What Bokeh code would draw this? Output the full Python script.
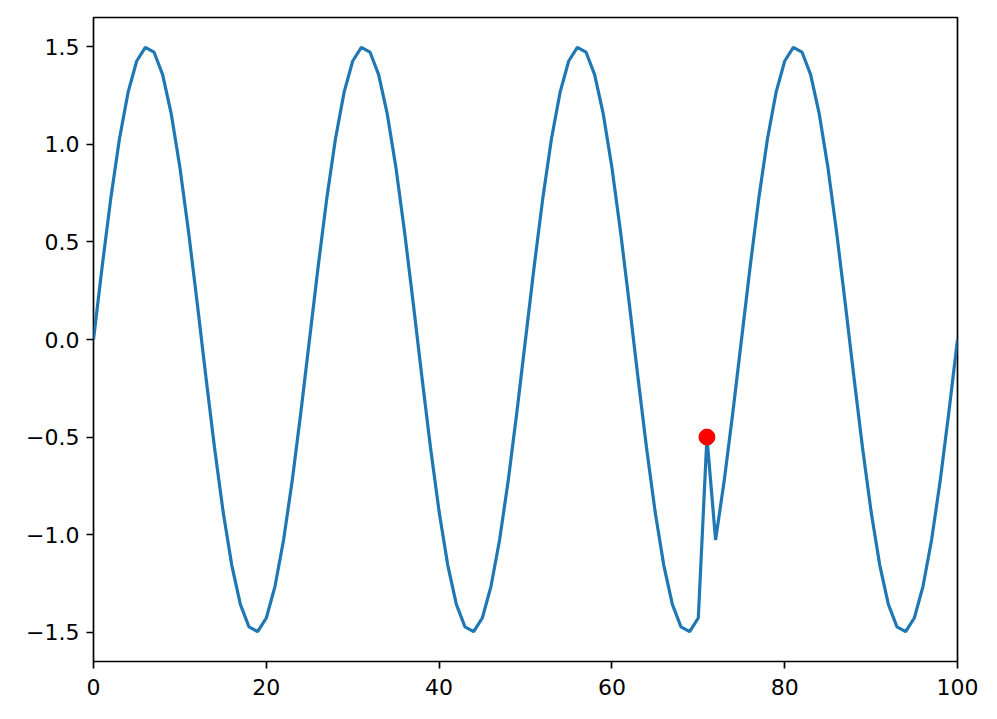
from bokeh.plotting import figure
from bokeh.models import Range1d, FixedTicker
from bokeh.embed import file_html
from bokeh.resources import INLINE

x_values = list(range(0, 101))
y_values = [
    0.0, 0.373, 0.723, 1.027, 1.266, 1.427, 1.497, 1.473, 1.357, 1.156,
    0.882, 0.552, 0.188, -0.188, -0.552, -0.882, -1.156, -1.357, -1.473, -1.497,
    -1.427, -1.266, -1.027, -0.723, -0.373,
    0.0, 0.373, 0.723, 1.027, 1.266, 1.427, 1.497, 1.473, 1.357, 1.156,
    0.882, 0.552, 0.188, -0.188, -0.552, -0.882, -1.156, -1.357, -1.473, -1.497,
    -1.427, -1.266, -1.027, -0.723, -0.373,
    0.0, 0.373, 0.723, 1.027, 1.266, 1.427, 1.497, 1.473, 1.357, 1.156,
    0.882, 0.552, 0.188, -0.188, -0.552, -0.882, -1.156, -1.357, -1.473, -1.497,
    -1.427, -0.5, -1.027, -0.723, -0.373,
    0.0, 0.373, 0.723, 1.027, 1.266, 1.427, 1.497, 1.473, 1.357, 1.156,
    0.882, 0.552, 0.188, -0.188, -0.552, -0.882, -1.156, -1.357, -1.473, -1.497,
    -1.427, -1.266, -1.027, -0.723, -0.373,
    0.0,
]
anomaly_x = [71]
anomaly_y = [-0.5]

x_ticks = [0, 20, 40, 60, 80, 100]
y_ticks = [-1.5, -1.0, -0.5, 0.0, 0.5, 1.0, 1.5]
y_tick_labels = ["\u22121.5", "\u22121.0", "\u22120.5", "0.0", "0.5", "1.0", "1.5"]

p = figure(width=981, height=703, output_backend="svg", toolbar_location=None,
           x_range=Range1d(0, 100), y_range=Range1d(-1.65, 1.65),
           min_border_left=93, min_border_top=17, min_border_right=24, min_border_bottom=42)

p.line(x_values, y_values, line_color="#1f77b4", line_width=3.2)
p.scatter(anomaly_x, anomaly_y, size=16, fill_color="red", line_color="red")

p.xgrid.visible = False
p.ygrid.visible = False
p.background_fill_color = "white"
p.border_fill_color = "white"
p.outline_line_color = "black"
p.outline_line_width = 1.7
p.outline_line_alpha = 1.0

for ax in (p.xaxis[0], p.yaxis[0]):
    ax.axis_line_color = None
    ax.major_tick_in = 0
    ax.major_tick_out = 7
    ax.major_tick_line_width = 1.7
    ax.major_tick_line_color = "black"
    ax.minor_tick_line_color = None
    ax.major_label_text_font = "DejaVu Sans"
    ax.major_label_text_font_size = "22px"
    ax.major_label_text_color = "black"
    ax.major_label_standoff = 7

p.xaxis[0].major_label_standoff = 10

p.xaxis[0].ticker = FixedTicker(ticks=x_ticks)
p.yaxis[0].ticker = FixedTicker(ticks=y_ticks)
p.xaxis[0].major_label_overrides = {t: str(t) for t in x_ticks}
p.yaxis[0].major_label_overrides = {t: l for t, l in zip(y_ticks, y_tick_labels)}

open("out.html", "w").write(file_html(p, INLINE))
